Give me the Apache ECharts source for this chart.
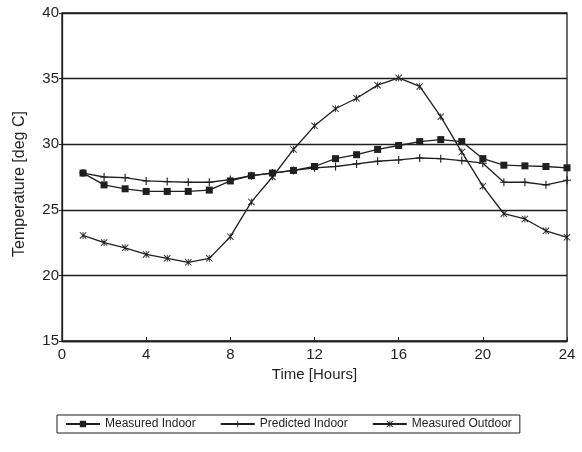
<!DOCTYPE html>
<html>
<head>
<meta charset="utf-8">
<title>Indoor / outdoor temperature</title>
<script src="https://cdn.jsdelivr.net/npm/echarts@6/dist/echarts.min.js"></script>
<style>
  html, body { margin: 0; padding: 0; background: #fff; }
  #chart { width: 582px; height: 452px; }
</style>
</head>
<body>
<div id="chart"></div>
<script>
// hours of the day
const hours = [1, 2, 3, 4, 5, 6, 7, 8, 9, 10, 11, 12, 13, 14, 15, 16, 17, 18, 19, 20, 21, 22, 23, 24];

// temperatures in deg C
const measuredIndoor = [27.8, 26.9, 26.6, 26.4, 26.4, 26.4, 26.5, 27.2, 27.6, 27.8, 28.0, 28.3,
  28.9, 29.2, 29.6, 29.9, 30.2, 30.35, 30.2, 28.9, 28.4, 28.35, 28.3, 28.2];
const predictedIndoor = [27.8, 27.5, 27.45, 27.2, 27.15, 27.1, 27.1, 27.3, 27.6, 27.8, 28.0, 28.2,
  28.3, 28.5, 28.7, 28.8, 28.95, 28.9, 28.75, 28.55, 27.1, 27.1, 26.9, 27.25];
const measuredOutdoor = [23.05, 22.5, 22.1, 21.6, 21.3, 21.0, 21.3, 22.95, 25.6, 27.5, 29.6, 31.4,
  32.7, 33.5, 34.5, 35.05, 34.4, 32.1, 29.4, 26.8, 24.7, 24.3, 23.4, 22.9];

const seriesNames = ["Measured Indoor", "Predicted Indoor", "Measured Outdoor"];

const ink = "#1f1f1f";
const font = "'Liberation Sans', Arial, sans-serif";

// plus and asterisk markers as filled shapes
const plusPath = "path://M-0.14,-1H0.14V-0.14H1V0.14H0.14V1H-0.14V0.14H-1V-0.14H-0.14Z";
const starPath = "path://M-1,-0.82L-0.82,-1L1,0.82L0.82,1Z M0.82,-1L1,-0.82L-0.82,1L-1,0.82Z M-0.12,-1H0.12V1H-0.12Z";

function pairs(values) {
  return hours.map((h, i) => [h, values[i]]);
}

const chart = echarts.init(document.getElementById("chart"));

chart.setOption({
  animation: false,
  backgroundColor: "#fff",
  textStyle: { fontFamily: font, color: ink },
  grid: {
    left: 62, right: 15, top: 13, bottom: 111,
    show: true, borderColor: ink, borderWidth: 1.3, backgroundColor: "transparent"
  },
  legend: {
    left: 57, top: 415,
    padding: [3, 8],
    itemGap: 24, itemWidth: 34, itemHeight: 8,
    borderColor: ink, borderWidth: 1,
    textStyle: { fontSize: 12, color: ink, fontFamily: font },
    data: seriesNames
  },
  xAxis: {
    type: "value",
    min: 0, max: 24, interval: 4,
    name: "Time [Hours]",
    nameLocation: "middle",
    nameGap: 20,
    nameTextStyle: { fontSize: 15, color: ink, fontFamily: font },
    axisLine: { show: true, lineStyle: { color: ink, width: 1.3 } },
    axisTick: { show: true, inside: true, length: 4, lineStyle: { color: ink } },
    axisLabel: { fontSize: 15, color: ink, margin: 6 },
    splitLine: { show: false }
  },
  yAxis: {
    type: "value",
    min: 15, max: 40, interval: 5,
    name: "Temperature [deg C]",
    nameLocation: "middle",
    nameGap: 34,
    nameTextStyle: { fontSize: 16, color: ink, fontFamily: font, padding: [0, 14, 0, 0] },
    axisLine: { show: true, lineStyle: { color: ink, width: 1.3 } },
    axisTick: { show: true, length: 3, lineStyle: { color: ink } },
    axisLabel: { fontSize: 15, color: ink, margin: 3 },
    splitLine: { show: true, lineStyle: { color: ink, width: 1.3 } }
  },
  series: [
    {
      name: seriesNames[0],
      type: "line",
      data: pairs(measuredIndoor),
      symbol: "rect",
      symbolSize: 7,
      lineStyle: { color: ink, width: 1.3 },
      itemStyle: { color: ink }
    },
    {
      name: seriesNames[1],
      type: "line",
      data: pairs(predictedIndoor),
      symbol: plusPath,
      symbolSize: 8,
      lineStyle: { color: ink, width: 1.3 },
      itemStyle: { color: ink }
    },
    {
      name: seriesNames[2],
      type: "line",
      data: pairs(measuredOutdoor),
      symbol: starPath,
      symbolSize: 7,
      lineStyle: { color: ink, width: 1.3 },
      itemStyle: { color: ink }
    }
  ]
});
</script>
</body>
</html>
